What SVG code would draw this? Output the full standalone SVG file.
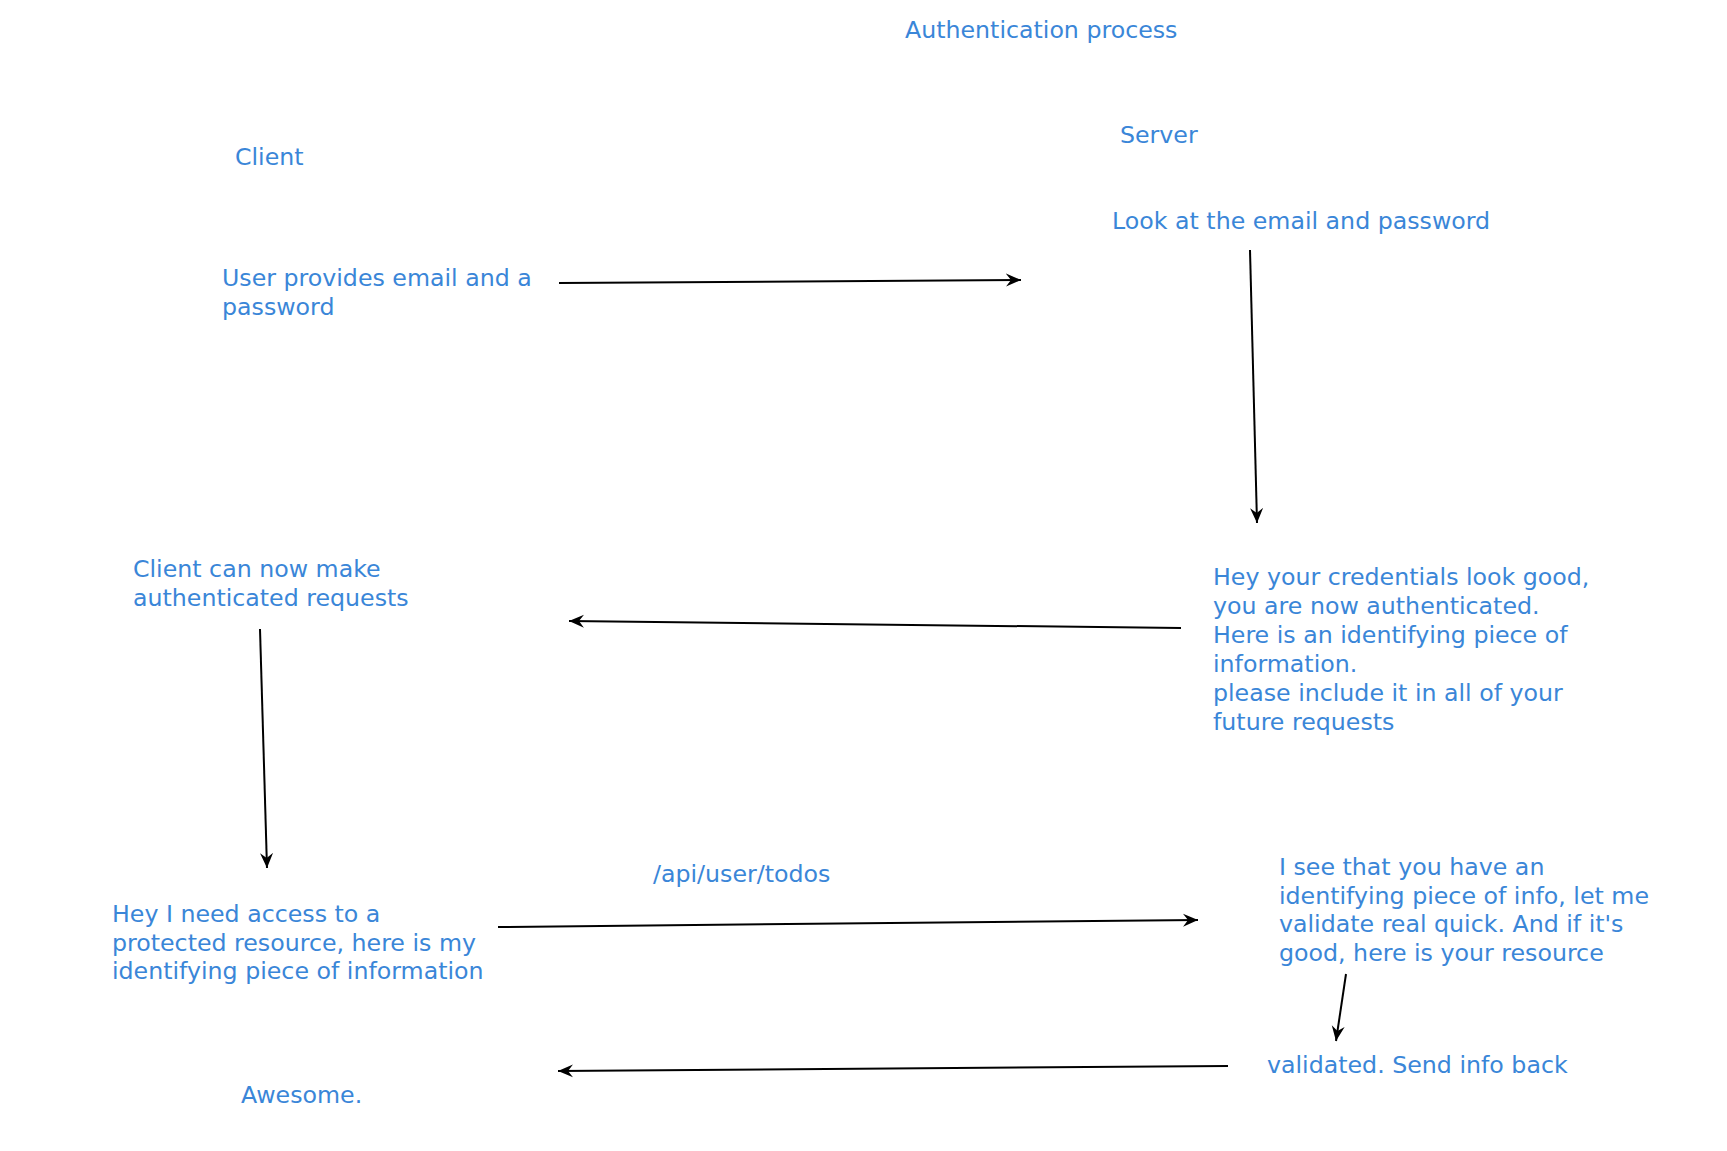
<svg xmlns="http://www.w3.org/2000/svg" width="1727" height="1151" viewBox="0 0 1727 1151">
<style>
.t{font-family:"DejaVu Sans","Verdana",sans-serif;font-size:23.7px;fill:#3a86d8}
.c{stroke:#000;stroke-width:2;fill:none;marker-end:url(#ah)}
</style>
<defs>
<marker id="ah" markerUnits="userSpaceOnUse" markerWidth="20" markerHeight="16" refX="15" refY="7" orient="auto" viewBox="0 0 20 14">
<path d="M15,7 L0,0.5 L5,7 L0,13.5 Z" fill="#000"/>
</marker>
</defs>
<rect width="1727" height="1151" fill="#fff"/>
<g id="title"><text class="t" x="905" y="38">Authentication process</text></g>
<g id="client-label"><text class="t" x="235" y="165">Client</text></g>
<g id="server-label"><text class="t" x="1120" y="143">Server</text></g>
<g id="n1"><text class="t" x="222" y="286">User provides email and a<tspan x="222" dy="28.7">password</tspan></text></g>
<g id="n2"><text class="t" x="1112" y="229">Look at the email and password</text></g>
<g id="n3"><text class="t" x="1213" y="585">Hey your credentials look good,<tspan x="1213" dy="29">you are now authenticated.</tspan><tspan x="1213" dy="29">Here is an identifying piece of</tspan><tspan x="1213" dy="29">information.</tspan><tspan x="1213" dy="29">please include it in all of your</tspan><tspan x="1213" dy="29">future requests</tspan></text></g>
<g id="n4"><text class="t" x="133" y="577">Client can now make<tspan x="133" dy="29">authenticated requests</tspan></text></g>
<g id="n5"><text class="t" x="112" y="922">Hey I need access to a<tspan x="112" dy="28.7">protected resource, here is my</tspan><tspan x="112" dy="28.7">identifying piece of information</tspan></text></g>
<g id="api-label"><text class="t" x="653" y="882">/api/user/todos</text></g>
<g id="n6"><text class="t" x="1279" y="875">I see that you have an<tspan x="1279" dy="28.7">identifying piece of info, let me</tspan><tspan x="1279" dy="28.7">validate real quick. And if it's</tspan><tspan x="1279" dy="28.7">good, here is your resource</tspan></text></g>
<g id="n7"><text class="t" x="1267" y="1073">validated. Send info back</text></g>
<g id="n8"><text class="t" x="241" y="1103">Awesome.</text></g>
<g id="connectors">
<line class="c" x1="559" y1="283" x2="1021" y2="280"/>
<line class="c" x1="1250" y1="250" x2="1257" y2="523"/>
<line class="c" x1="1181" y1="628" x2="569" y2="621"/>
<line class="c" x1="260" y1="629" x2="267" y2="868"/>
<line class="c" x1="498" y1="927" x2="1198" y2="920"/>
<line class="c" x1="1346" y1="974" x2="1336" y2="1041"/>
<line class="c" x1="1228" y1="1066" x2="558" y2="1071"/>
</g>
</svg>
